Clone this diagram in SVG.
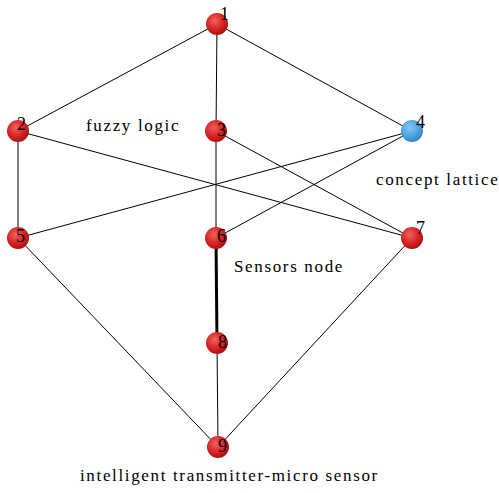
<svg xmlns="http://www.w3.org/2000/svg" width="499" height="493" viewBox="0 0 499 493">
<defs>
<radialGradient id="red" cx="0.4" cy="0.35" r="0.7">
<stop offset="0" stop-color="#f06060"/>
<stop offset="0.6" stop-color="#d42020"/>
<stop offset="1" stop-color="#a01010"/>
</radialGradient>
<radialGradient id="blue" cx="0.4" cy="0.35" r="0.7">
<stop offset="0" stop-color="#8cc8f4"/>
<stop offset="0.6" stop-color="#4aa0e0"/>
<stop offset="1" stop-color="#2f80c8"/>
</radialGradient>
<style>
.e{stroke:#000;stroke-width:1;fill:none}
.n{font-family:"Liberation Serif",serif;font-size:18px;fill:#000}
.t{font-family:"Liberation Serif",serif;font-size:17px;letter-spacing:1.65px;fill:#000}
</style>
</defs>
<rect width="499" height="493" fill="#fff"/>
<g id="connectors">
<line class="e" x1="217" y1="24" x2="18" y2="131"/>
<line class="e" x1="217" y1="24" x2="216" y2="131"/>
<line class="e" x1="217" y1="24" x2="412" y2="131"/>
<line class="e" x1="18" y1="131" x2="18" y2="238"/>
<line class="e" x1="18" y1="131" x2="412" y2="238"/>
<line class="e" x1="216" y1="131" x2="216" y2="238"/>
<line class="e" x1="216" y1="131" x2="412" y2="238"/>
<line class="e" x1="412" y1="131" x2="18" y2="238"/>
<line class="e" x1="412" y1="131" x2="216" y2="238"/>
<line class="e" x1="216" y1="238" x2="217" y2="343" style="stroke-width:3"/>
<line class="e" x1="217" y1="343" x2="218" y2="447"/>
<line class="e" x1="18" y1="238" x2="218" y2="447"/>
<line class="e" x1="412" y1="238" x2="218" y2="447"/>
</g>
<g id="n1"><circle cx="217" cy="24" r="11" fill="url(#red)"/><text class="n" x="220" y="20">1</text></g>
<g id="n2"><circle cx="18" cy="131" r="11" fill="url(#red)"/><text class="n" x="17" y="130">2</text></g>
<g id="n3"><circle cx="216" cy="131" r="11" fill="url(#red)"/><text class="n" x="217" y="136">3</text></g>
<g id="n4"><circle cx="412" cy="131" r="11" fill="url(#blue)"/><text class="n" x="416" y="128">4</text></g>
<g id="n5"><circle cx="18" cy="238" r="11" fill="url(#red)"/><text class="n" x="16" y="242">5</text></g>
<g id="n6"><circle cx="216" cy="238" r="11" fill="url(#red)"/><text class="n" x="217" y="242">6</text></g>
<g id="n7"><circle cx="412" cy="238" r="11" fill="url(#red)"/><text class="n" x="416" y="234">7</text></g>
<g id="n8"><circle cx="217" cy="343" r="11" fill="url(#red)"/><text class="n" x="218" y="348">8</text></g>
<g id="n9"><circle cx="218" cy="447" r="11" fill="url(#red)"/><text class="n" x="218" y="452">9</text></g>
<g id="labels">
<text class="t" x="86" y="131">fuzzy logic</text>
<text class="t" x="376" y="185">concept lattice</text>
<text class="t" x="234" y="272">Sensors node</text>
<text class="t" x="80" y="481">intelligent transmitter-micro sensor</text>
</g>
</svg>
